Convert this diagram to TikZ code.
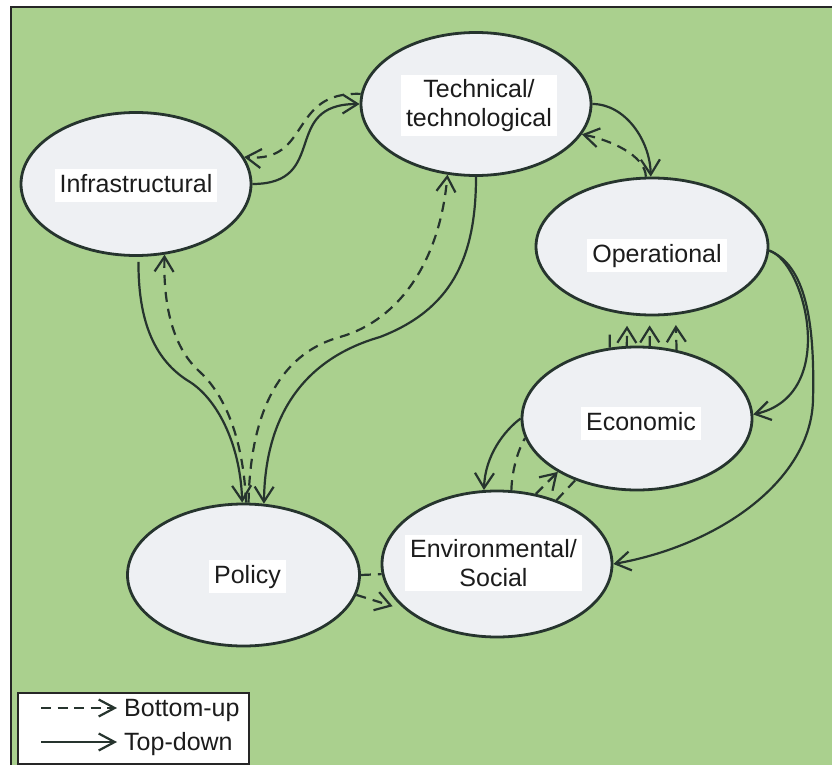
\documentclass[tikz,border=0pt]{standalone}
\usepackage{fontspec}
\setmainfont{Liberation Sans}
\usetikzlibrary{arrows.meta,shapes.geometric}
\definecolor{paper}{RGB}{170,208,142}
\definecolor{oval}{RGB}{238,240,243}
\definecolor{ink}{RGB}{38,52,46}
\definecolor{txt}{RGB}{28,28,28}
\begin{document}
\begin{tikzpicture}[x=1pt,y=-1pt,
  blob/.style={ellipse, draw=ink, line width=2.8pt, fill=oval,
    minimum width=230pt, minimum height=143pt, inner sep=0pt},
  lbl/.style={fill=white, inner sep=5pt, text=txt,
    font=\fontsize{25}{28.5}\selectfont, align=center},
  one/.style={text height=18pt, text depth=5pt},
  link/.style={draw=ink, line width=2.2pt},
  head/.style={-{Straight Barb[length=15pt,width=19pt]}},
  td/.style={link, head},
  buplain/.style={link, dash pattern=on 10pt off 7pt},
  bu/.style={buplain, head},
  legtxt/.style={inner sep=0pt, text=txt, font=\fontsize{25}{28.5}\selectfont}
]
\useasboundingbox (0,0) rectangle (832,765);
\clip (0,0) rectangle (832,765);
\fill[white] (0,0) rectangle (832,765);
\draw[fill=paper, line width=1.8pt, draw=black!85] (11,7) rectangle (860,800);

% ovals
\node[blob] (infra) at (136,184) {};
\node[blob] (tech) at (476,104) {};
\node[blob, minimum width=232pt, minimum height=137pt] (oper) at (652,246.5) {};
\node[blob] (econ) at (637,418.5) {};
\node[blob, minimum width=232pt, minimum height=142pt] (policy) at (243.5,575) {};
\node[blob, minimum height=146pt] (envso) at (497,564) {};

% labels
\node[lbl, one] (infraL) at (136,185.5) {Infrastructural};
\node[lbl] (techL) at (479,105.5) {Technical/\\technological};
\node[lbl, one] (operL) at (657,255.5) {Operational};
\node[lbl, one] (econL) at (641,423.5) {Economic};
\node[lbl, one] (policyL) at (247.5,576.5) {Policy};
\node[lbl] (envsoL) at (493.5,563) {Environmental/\\Social};

% infrastructural <-> technical
\draw[td] (infra.0) .. controls (330,184) and (280,104) .. (tech.180);
\draw[bu] (tech.175) .. controls (288,91) and (312,163) .. (infra.14);

% technical <-> operational
\draw[td] (tech.0) .. controls (625,104) and (650,140) .. (oper.91);
\draw[bu] (oper.95) .. controls (645,155) and (610,140) .. (tech.-16.4);

% infrastructural <-> policy
\draw[td, shorten <=5pt] (infra.-88) .. controls (138,330) and (160,364) .. (190,382)
  .. controls (215,398) and (240,440) .. (policy.91);
\draw[bu] (policy.88) .. controls (244,450) and (230,400) .. (200,372)
  .. controls (175,350) and (163,310) .. (infra.-68.6);

% technical <-> policy
\draw[td] (tech.-90) .. controls (476,260) and (450,310) .. (380,337)
  .. controls (300,360) and (265,420) .. (policy.74);
\draw[bu] (policy.86) .. controls (250,420) and (275,355) .. (340,337)
  .. controls (400,320) and (440,260) .. (tech.-112);

% operational -> economic, environmental/social
\draw[td] (oper.-2) .. controls (805,262) and (840,395) .. (econ.2);
\draw[td] (oper.-2) .. controls (805,265) and (815,320) .. (813,400)
  .. controls (811,480) and (720,545) .. (envso.0);

% economic -> operational
\draw[link, shorten >=23pt] (econ.111.2) -- (oper.-123.5);
\draw[bu, shorten >=11pt] (econ.98) -- (oper.-110.5);
\draw[bu, shorten >=9pt] (econ.80.4) -- (oper.-92.5);
\draw[bu, shorten >=10pt] (econ.60.6) -- (oper.-71.1);

% economic <-> environmental/social
\draw[td] (econ.180) .. controls (505,430) and (485,455) .. (envso.100);
\draw[buplain] (envso.79) .. controls (512,470) and (518,450) .. (econ.190);
\draw[bu] (envso.61) -- (econ.-146);
\draw[buplain] (envso.47.7) -- (econ.-135.7);

% policy -> environmental/social
\draw[buplain] (policy.0) -- (envso.185);
\draw[bu, shorten >=14pt] (policy.-10) -- (envso.-153);

% legend
\node[draw=black!85, fill=white, line width=1.8pt, minimum width=231pt,
  minimum height=71pt, inner sep=0pt, anchor=north west] (legend) at (17,692) {};
\coordinate (buA) at (41,708);
\coordinate (buB) at (117,708);
\coordinate (tdA) at (41,742);
\coordinate (tdB) at (117,742);
\draw[link, dash pattern=on 10pt off 6.5pt, -{Straight Barb[length=16pt,width=17pt]}] (buA) -- (buB);
\draw[link, -{Straight Barb[length=16pt,width=17pt]}] (tdA) -- (tdB);
\node[legtxt, anchor=base west] (buT) at (124,716) {Bottom-up};
\node[legtxt, anchor=base west] (tdT) at (124,750) {Top-down};
\end{tikzpicture}
\end{document}
